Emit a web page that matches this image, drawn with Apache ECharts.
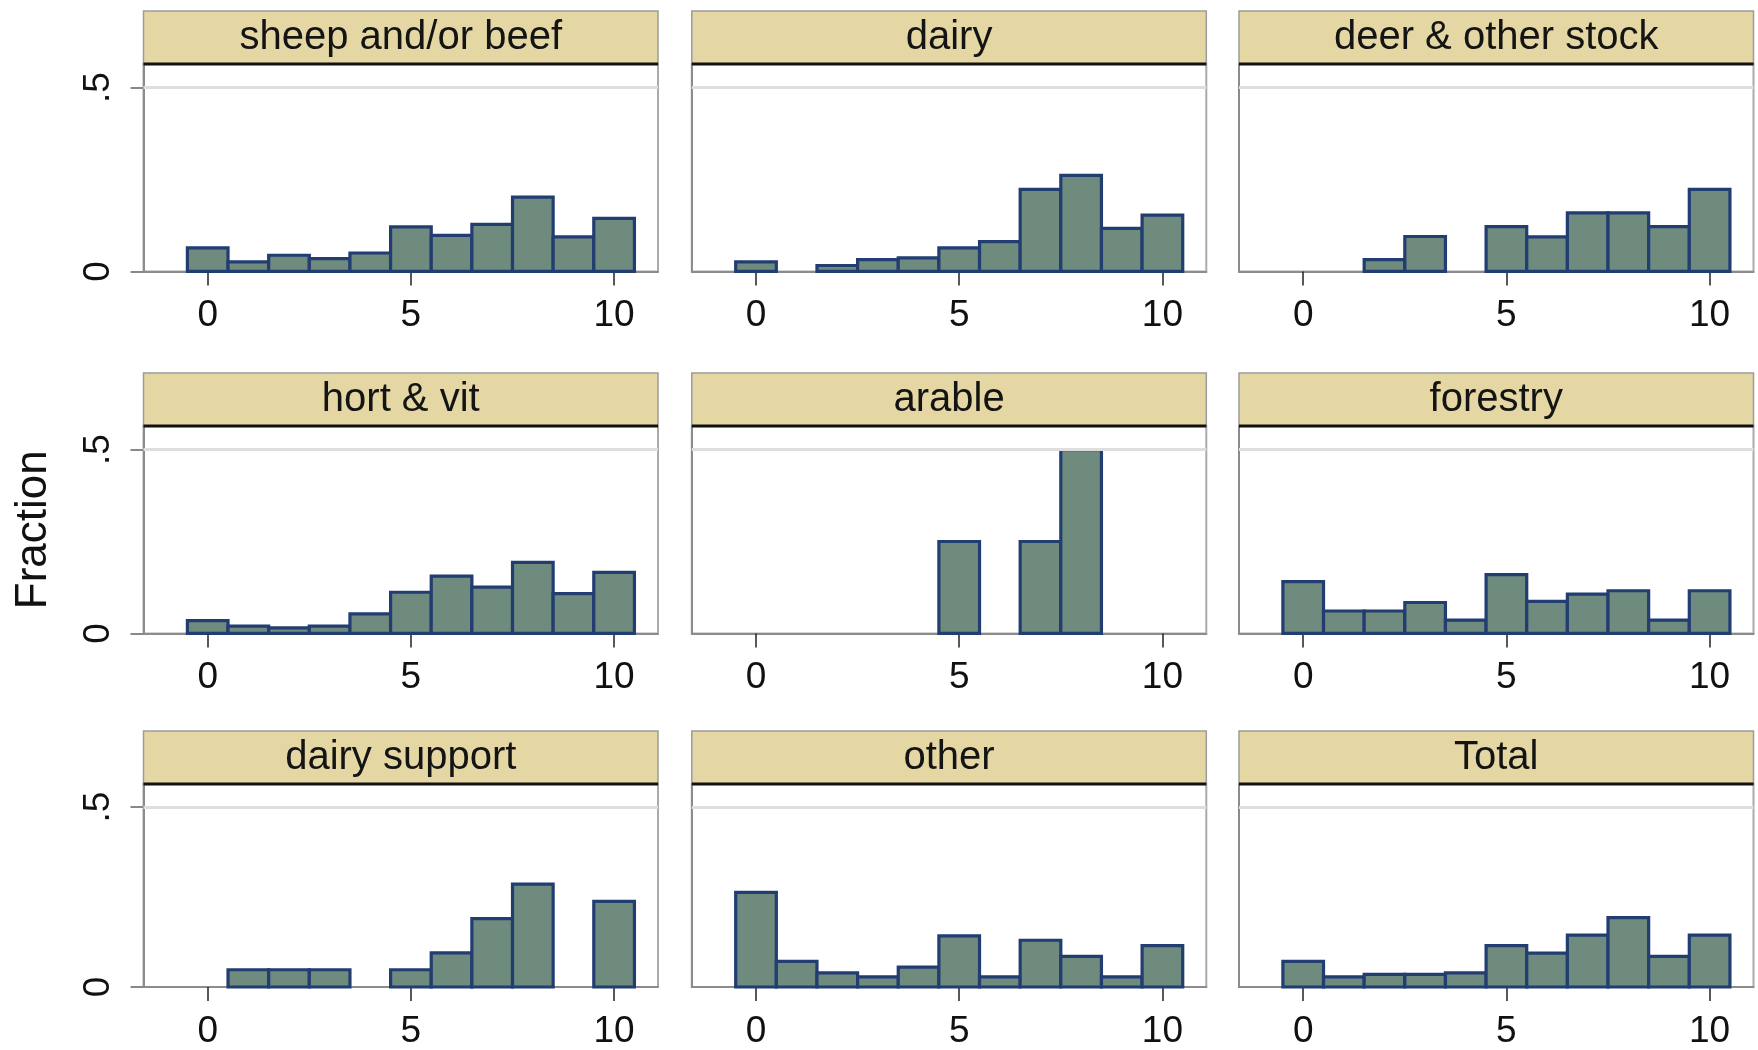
<!DOCTYPE html>
<html>
<head>
<meta charset="utf-8">
<title>Fraction by farm type</title>
<script src="https://cdn.jsdelivr.net/npm/echarts@6.0.0/dist/echarts.min.js"></script>
<style>
  html, body { margin: 0; padding: 0; background: #fff; }
  #chart { width: 1758px; height: 1050px; }
</style>
</head>
<body>
<div id="chart"></div>
<script>
// bins are centred on 0..10
const bins = [0, 1, 2, 3, 4, 5, 6, 7, 8, 9, 10]
const panelNames = [
  'sheep and/or beef', 'dairy', 'deer & other stock',
  'hort & vit', 'arable', 'forestry',
  'dairy support', 'other', 'Total'
]

const sheepBeef    = [0.064, 0.026, 0.044, 0.035, 0.050, 0.121, 0.098, 0.128, 0.202, 0.094, 0.144]
const dairy        = [0.026, 0, 0.016, 0.032, 0.037, 0.064, 0.081, 0.223, 0.261, 0.117, 0.153]
const deerOther    = [0, 0, 0.032, 0.095, 0, 0.122, 0.094, 0.159, 0.159, 0.122, 0.223]
const hortVit      = [0.035, 0.020, 0.015, 0.020, 0.053, 0.112, 0.156, 0.126, 0.193, 0.108, 0.166]
const arable       = [0, 0, 0, 0, 0, 0.25, 0, 0.25, 0.5, 0, 0]
const forestry     = [0.141, 0.061, 0.061, 0.084, 0.036, 0.160, 0.087, 0.107, 0.116, 0.036, 0.116]
const dairySupport = [0, 0.048, 0.048, 0.048, 0, 0.048, 0.095, 0.190, 0.286, 0, 0.238]
const other        = [0.263, 0.071, 0.039, 0.028, 0.055, 0.142, 0.028, 0.130, 0.085, 0.028, 0.115]
const total        = [0.071, 0.028, 0.035, 0.035, 0.039, 0.115, 0.094, 0.144, 0.193, 0.085, 0.144]

const panelValues = [sheepBeef, dairy, deerOther, hortVit, arable, forestry, dairySupport, other, total]

const xTicks = [0, 5, 10]
const yTicks = [0, 0.5]
const yTickLabels = ['0', '.5']

// layout
const colLeft = [143.5, 691.8, 1239]
const rowTop = [11, 373, 731]
const panelW = 514.5
const headerH = 53
const plotH = 207.4
const font = 'Liberation Sans'

const el = document.getElementById('chart')
const chart = echarts.init(el)

function renderBin(params, api) {
  const x = api.value(0)
  const y = api.value(1)
  if (!y) return null
  const p0 = api.coord([x - 0.5, y])
  const p1 = api.coord([x + 0.5, 0])
  return {
    type: 'rect',
    shape: { x: p0[0], y: p0[1], width: p1[0] - p0[0], height: p1[1] - p0[1] },
    style: { fill: '#6e8b7e', stroke: '#223d72', lineWidth: 3.2 }
  }
}

const grid = [], xAxis = [], yAxis = [], series = [], graphic = []

panelNames.forEach((name, i) => {
  const r = Math.floor(i / 3)
  const c = i % 3
  const top = rowTop[r] + headerH

  grid.push({
    left: colLeft[c], top: top, width: panelW, height: plotH,
    show: true, borderColor: '#ababab', borderWidth: 2, backgroundColor: '#fff'
  })

  xAxis.push({
    type: 'value', gridIndex: i, min: -1.58, max: 11.08,
    axisLine: { show: true, onZero: false, lineStyle: { color: '#8c8c8c', width: 2 } },
    axisTick: { show: true, customValues: xTicks, length: 14, lineStyle: { color: '#222', width: 1.5 } },
    axisLabel: { customValues: xTicks, fontSize: 37, fontFamily: font, color: '#111', margin: 26 },
    splitLine: { show: false }
  })

  const showY = c === 0
  yAxis.push({
    type: 'value', gridIndex: i, min: 0, max: 0.5642,
    axisLine: { show: true, onZero: false, lineStyle: { color: '#8c8c8c', width: 2 } },
    axisTick: { show: showY, customValues: yTicks, length: 13, lineStyle: { color: '#888', width: 2 } },
    axisLabel: {
      show: showY, customValues: yTicks, rotate: 90,
      formatter: v => yTickLabels[yTicks.indexOf(v)] ?? '',
      fontSize: 37, fontFamily: font, color: '#111', margin: 26
    },
    splitLine: { show: false },
    name: i === 3 ? 'Fraction' : '',
    nameLocation: 'middle',
    nameGap: 88,
    nameTextStyle: { fontSize: 44, fontFamily: font, color: '#111' }
  })

  series.push({
    type: 'custom',
    xAxisIndex: i, yAxisIndex: i,
    renderItem: renderBin,
    encode: { x: 0, y: 1 },
    data: bins.map((b, k) => [b, panelValues[i][k]]),
    markLine: {
      silent: true, symbol: ['none', 'none'], label: { show: false },
      lineStyle: { color: '#dedede', width: 3, type: 'solid' },
      data: [{ yAxis: 0.5 }]
    },
    z: 3
  })

  // strip header
  graphic.push({
    type: 'rect',
    shape: { x: colLeft[c], y: rowTop[r], width: panelW, height: headerH },
    style: { fill: '#e4d7a3', stroke: '#9c9c9c', lineWidth: 1.5 },
    z: 10
  })
  graphic.push({
    type: 'line',
    shape: { x1: colLeft[c], y1: top, x2: colLeft[c] + panelW, y2: top },
    style: { stroke: '#111', lineWidth: 3 },
    z: 11
  })
  graphic.push({
    type: 'text',
    x: colLeft[c] + panelW / 2, y: rowTop[r] + headerH / 2,
    style: {
      text: name, fill: '#141414', font: '40px "Liberation Sans"',
      textAlign: 'center', textVerticalAlign: 'middle'
    },
    z: 12
  })
})

chart.setOption({
  backgroundColor: '#fff',
  animation: false,
  grid, xAxis, yAxis, series, graphic
})

window.addEventListener('resize', () => chart.resize())
</script>
</body>
</html>
